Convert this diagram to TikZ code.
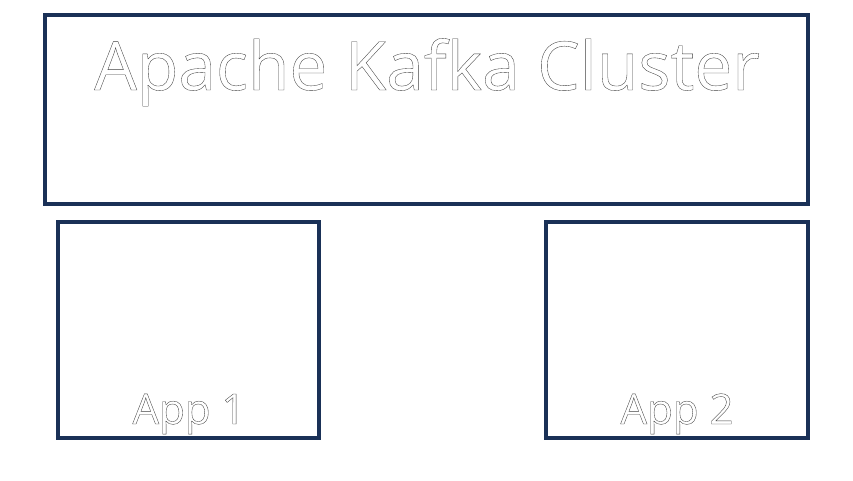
\documentclass[tikz,border=0pt]{standalone}
\usepackage{fontspec}
\setmainfont{Open Sans}
\definecolor{kafkanavy}{HTML}{1A3157}
% white letters with a thin dark outline
\newcommand{\hollowtext}[1]{\special{pdf:literal 0.25 0.25 0.25 RG 0.35 w 2 Tr}#1\special{pdf:literal 0 Tr}}
\begin{document}
\begin{tikzpicture}[x=1pt, y=-1pt,
  panel/.style={draw=kafkanavy, line width=4.5pt, fill=white, outer sep=0pt},
  title/.style={text=white, inner sep=0pt, font=\fontsize{67.5}{72}\selectfont},
  applabel/.style={text=white, inner sep=0pt, font=\fontsize{42}{46}\selectfont}
]
\useasboundingbox (0,0) rectangle (853,480);
\node[panel, minimum width=763pt, minimum height=189pt, anchor=north west] (cluster) at (45,15) {};
\node[panel, minimum width=261pt, minimum height=216pt, anchor=north west] (app1) at (58,222) {};
\node[panel, minimum width=262pt, minimum height=216pt, anchor=north west] (app2) at (546,222) {};
\node[title, anchor=base] (clustertitle) at (427,90) {\hollowtext{Apache Kafka Cluster}};
\node[applabel, anchor=base] (app1label) at (189,424) {\hollowtext{App 1}};
\node[applabel, anchor=base] (app2label) at (677,424) {\hollowtext{App 2}};
\end{tikzpicture}
\end{document}
